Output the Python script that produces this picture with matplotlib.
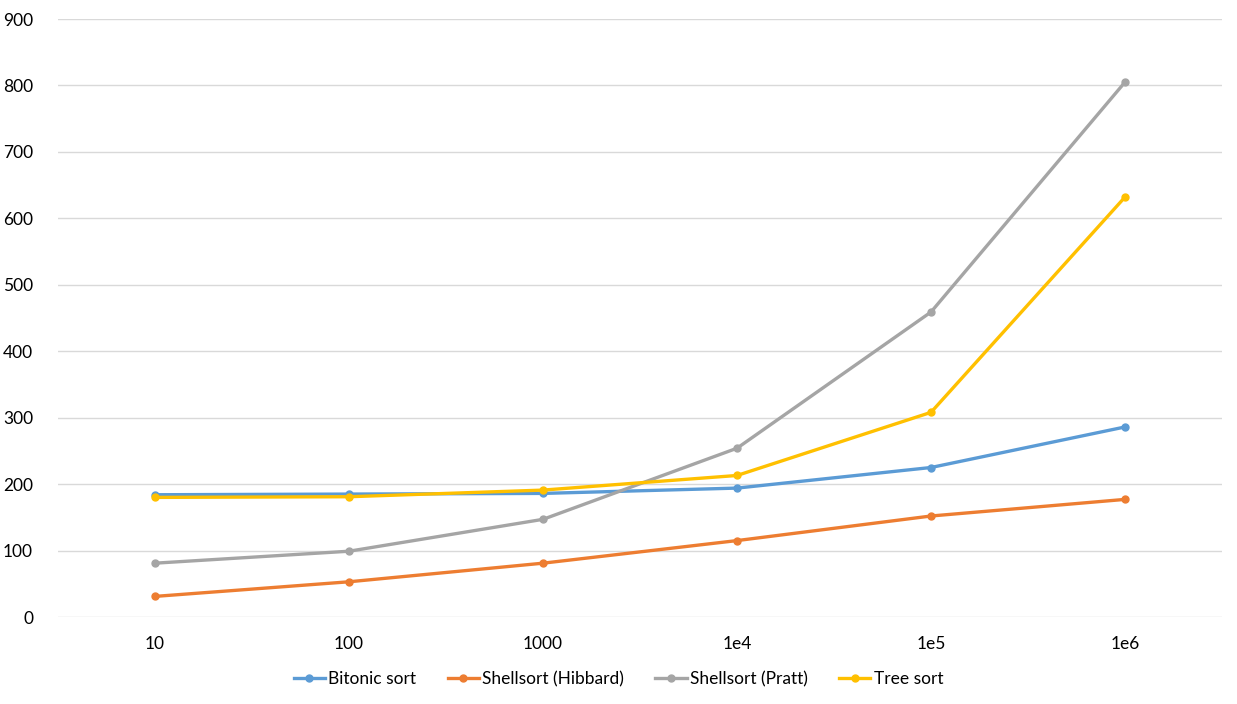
import matplotlib.pyplot as plt

plt.rcParams['font.family'] = ['Lato', 'DejaVu Sans']

sizes = ["10", "100", "1000", "1e4", "1e5", "1e6"]
bitonic = [184, 185, 186, 194, 225, 286]
shell_hibbard = [31, 53, 81, 115, 152, 177]
shell_pratt = [81, 99, 147, 254, 459, 805]
tree_sort = [180, 181, 191, 213, 308, 632]

series = [
    ("Bitonic sort", bitonic, "#5B9BD5"),
    ("Shellsort (Hibbard)", shell_hibbard, "#ED7D31"),
    ("Shellsort (Pratt)", shell_pratt, "#A5A5A5"),
    ("Tree sort", tree_sort, "#FFC000"),
]

fig = plt.figure(figsize=(12.37, 7.04), dpi=100)
ax = fig.add_axes([58 / 1237, 1 - 617 / 704, (1222 - 58) / 1237, (617 - 19) / 704])

x = list(range(len(sizes)))
for name, vals, color in series:
    ax.plot(x, vals, color=color, linewidth=2.4, marker="o", markersize=5, label=name)

ax.set_xlim(-0.5, len(sizes) - 0.5)
ax.set_ylim(0, 900)
ax.set_yticks(range(0, 901, 100))
ax.set_xticks(x)
ax.set_xticklabels(sizes)
ax.yaxis.grid(True, color="#D9D9D9", linewidth=1)
ax.set_axisbelow(True)
for s in ax.spines.values():
    s.set_visible(False)
ax.tick_params(axis="both", length=0, labelsize=12.5, colors="#000000")
ax.tick_params(axis="x", pad=14)
ax.tick_params(axis="y", pad=18)

fig.legend(loc="center", bbox_to_anchor=(0.5, 1 - 679 / 704), ncol=4, frameon=False,
           fontsize=12.5, handlelength=1.8, handletextpad=0.2, columnspacing=1.8)

fig.savefig("out.png", dpi=100)
